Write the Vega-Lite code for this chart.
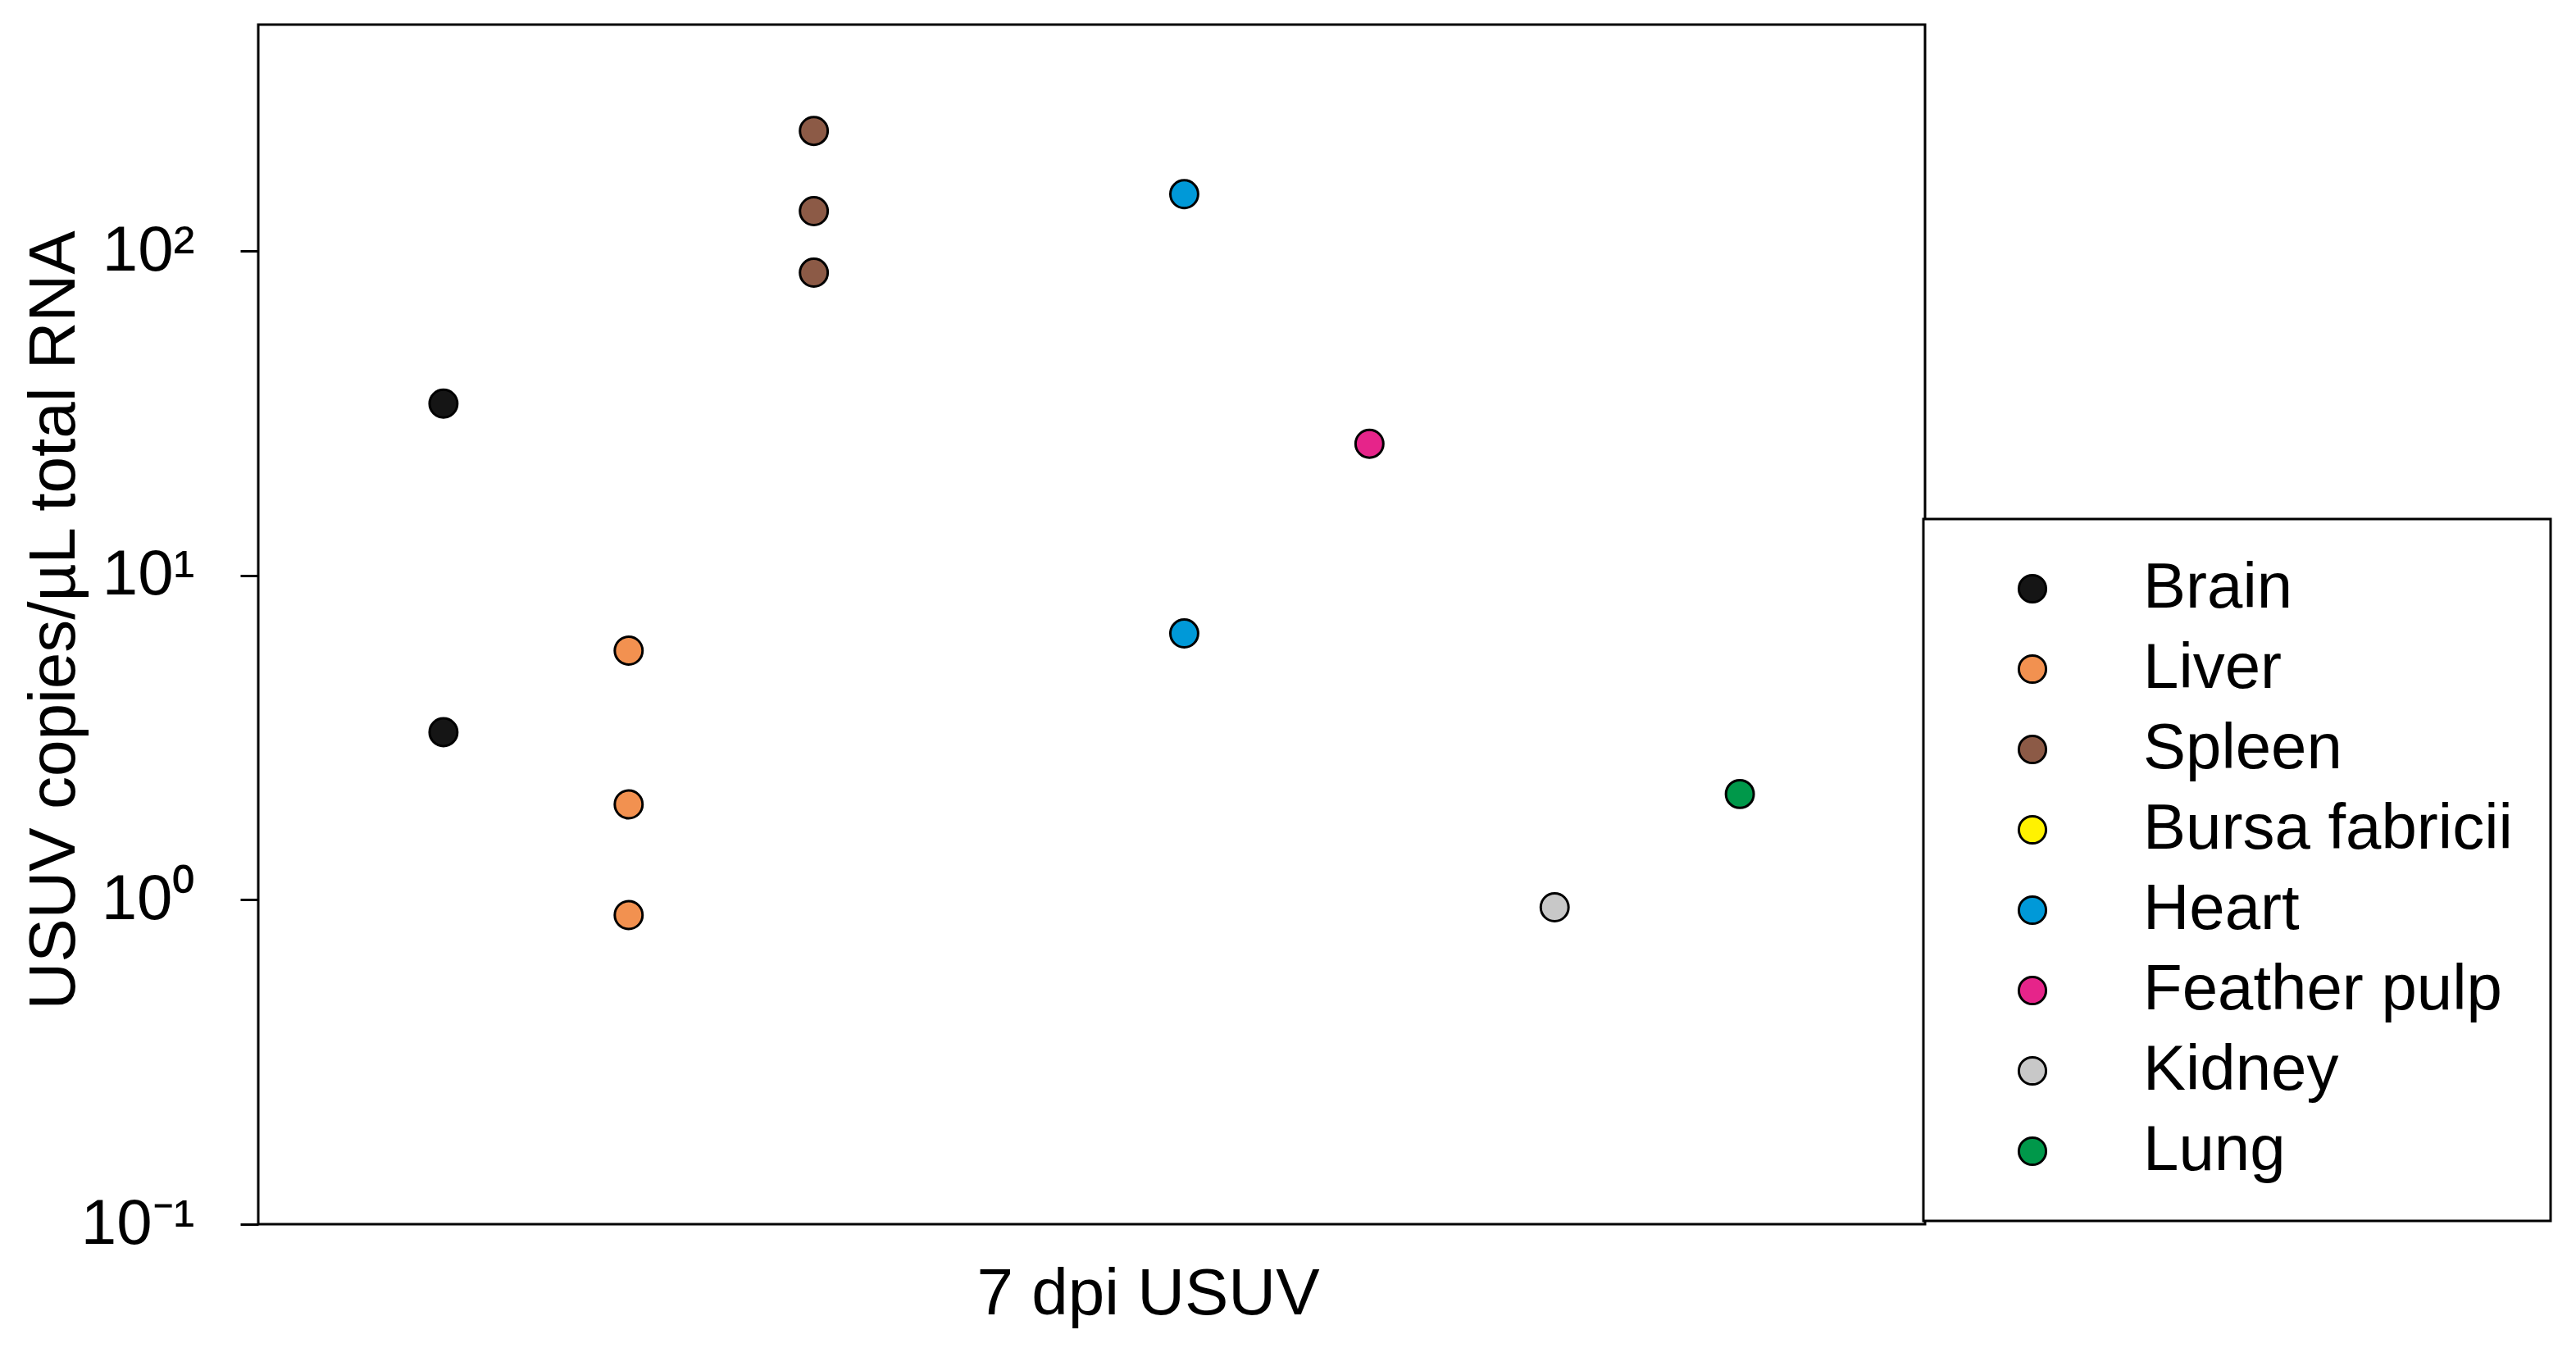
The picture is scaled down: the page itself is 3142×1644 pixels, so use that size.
{
  "$schema": "https://vega.github.io/schema/vega-lite/v6.json",
  "autosize": "none",
  "width": 2033,
  "height": 1463,
  "padding": {"left": 315, "top": 30, "right": 794, "bottom": 151},
  "background": "white",
  "config": {
    "view": {"stroke": "black", "strokeWidth": 3},
    "font": "Liberation Sans"
  },
  "data": {
    "values": [
      {"tissue": "Brain", "copies": 33.9},
      {"tissue": "Brain", "copies": 3.29},
      {"tissue": "Liver", "copies": 5.87},
      {"tissue": "Liver", "copies": 1.97},
      {"tissue": "Liver", "copies": 0.898},
      {"tissue": "Spleen", "copies": 235},
      {"tissue": "Spleen", "copies": 133},
      {"tissue": "Spleen", "copies": 85.9},
      {"tissue": "Heart", "copies": 150},
      {"tissue": "Heart", "copies": 6.63},
      {"tissue": "Feather pulp", "copies": 25.5},
      {"tissue": "Kidney", "copies": 0.949},
      {"tissue": "Lung", "copies": 2.12}
    ]
  },
  "mark": {"type": "point", "filled": true, "opacity": 1, "size": 1150, "stroke": "black", "strokeWidth": 3, "shape": "circle"},
  "encoding": {
    "x": {
      "field": "tissue",
      "type": "nominal",
      "scale": {"type": "point", "padding": 1, "domain": ["Brain", "Liver", "Spleen", "Bursa fabricii", "Heart", "Feather pulp", "Kidney", "Lung"]},
      "axis": {
        "labels": false,
        "ticks": false,
        "domain": false,
        "grid": false,
        "title": "7 dpi USUV",
        "titleFont": "Liberation Sans",
        "titleFontSize": 80,
        "titleFontWeight": "normal",
        "titleColor": "black",
        "titleX": 1085,
        "titleY": 109,
        "titleAlign": "center",
        "titleBaseline": "alphabetic"
      }
    },
    "y": {
      "field": "copies",
      "type": "quantitative",
      "scale": {"type": "log", "domain": [0.1, 500], "nice": false},
      "axis": {
        "values": [0.1, 1, 10, 100],
        "labelExpr": "datum.value > 50 ? '10²' : datum.value > 5 ? '10¹' : datum.value > 0.5 ? '10⁰' : '10⁻¹'",
        "labelFont": "Liberation Sans",
        "labelFontSize": 78,
        "labelColor": "black",
        "labelPadding": 56,
        "labelFlush": false,
        "labelOverlap": false,
        "ticks": true,
        "tickSize": 22,
        "tickWidth": 3,
        "tickColor": "black",
        "domain": false,
        "grid": false,
        "title": "USUV copies/µL total RNA",
        "titleFont": "Liberation Sans",
        "titleFontSize": 80,
        "titleFontWeight": "normal",
        "titleColor": "black",
        "titleAngle": -90,
        "titleX": -225,
        "titleY": 726,
        "titleAlign": "center",
        "titleBaseline": "alphabetic"
      }
    },
    "color": {
      "field": "tissue",
      "type": "nominal",
      "scale": {
        "domain": ["Brain", "Liver", "Spleen", "Bursa fabricii", "Heart", "Feather pulp", "Kidney", "Lung"],
        "range": ["#151515", "#f29150", "#8c5a46", "#fff200", "#0099d8", "#e6248a", "#c8c8c8", "#00984a"]
      },
      "legend": {
        "title": null,
        "orient": "none",
        "legendX": 2031,
        "legendY": 603,
        "strokeColor": "black",
        "fillColor": "white",
        "padding": 46,
        "symbolOffset": 48,
        "labelOffset": 96,
        "labelFont": "Liberation Sans",
        "labelFontSize": 78,
        "labelColor": "black",
        "labelLimit": 1000,
        "rowPadding": 20,
        "symbolType": "circle",
        "symbolSize": 1100,
        "symbolStrokeColor": "black",
        "symbolStrokeWidth": 3,
        "symbolOpacity": 1,
        "encode": {"legend": {"update": {"strokeWidth": {"value": 3}}}}
      }
    }
  }
}
